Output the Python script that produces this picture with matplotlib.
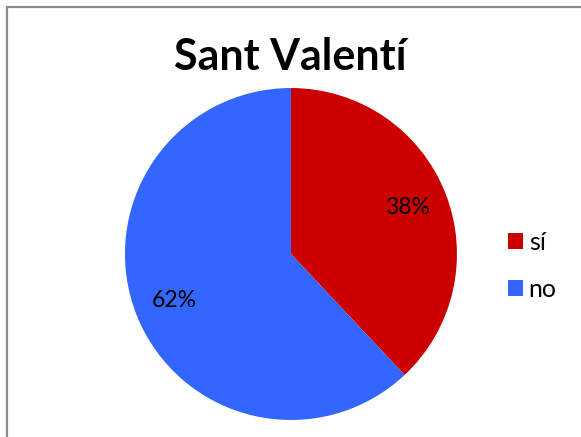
import matplotlib.pyplot as plt
from matplotlib.patches import Rectangle

labels = ['sí', 'no']
values = [38, 62]
colors = ['#CC0000', '#3366FF']
title = 'Sant Valentí'

plt.rcParams['font.family'] = ['Lato', 'DejaVu Sans']

fig = plt.figure(figsize=(5.81, 4.37), dpi=100)

# chart border (only left and top visible in the original)
fig.patches.append(Rectangle((7 / 581, -0.1), 1.2, (437 - 7) / 437 + 0.1,
                             transform=fig.transFigure, fill=False,
                             edgecolor='#8c8c8c', linewidth=1.6))

ax = fig.add_axes([0.2151, 0.0389, 0.5714, 0.7597])
wedges, texts, autotexts = ax.pie(values, colors=colors, startangle=90,
                                  counterclock=False, autopct='%d%%',
                                  pctdistance=0.755,
                                  textprops={'fontsize': 16.5, 'color': 'black'})
ax.set_xlim(-1, 1)
ax.set_ylim(-1, 1)
ax.set_aspect('equal')

fig.text(0.5, 1 - 57 / 437, title, ha='center', va='center',
         fontsize=31, fontweight='bold')

leg = fig.legend(wedges, labels, loc='center left',
                 bbox_to_anchor=(485 / 581, 1 - 266 / 437),
                 frameon=False, fontsize=18, handlelength=0.6,
                 handleheight=0.6, handletextpad=0.25, labelspacing=0.95)

fig.savefig('out.png', dpi=100)
